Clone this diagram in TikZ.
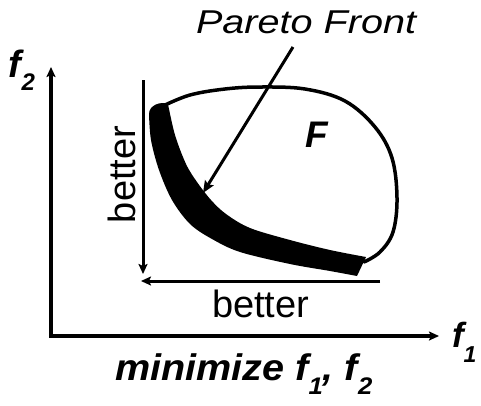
\documentclass[tikz,border=0pt]{standalone}
\usepackage{fontspec}
\setmainfont{Liberation Sans}
\usetikzlibrary{arrows.meta}
\tikzset{
  txt/.style={inner sep=0pt, outer sep=0pt, anchor=base west},
  axisline/.style={line width=3.5pt, line join=miter, {Stealth[length=10pt,width=9pt,inset=2pt]}-{Stealth[length=10pt,width=9pt,inset=2pt]}},
  betterarrow/.style={line width=3pt, -{Stealth[length=10pt,width=9pt,inset=2pt]}},
  pointer/.style={line width=3pt, -{Stealth[length=12pt,width=10pt,inset=2pt]}},
  outline/.style={line width=3.5pt, line cap=round, line join=round}
}
\begin{document}
\begin{tikzpicture}[x=1pt,y=-1pt]
\useasboundingbox (0,0) rectangle (481,405);

% axes
\coordinate (origin) at (51,336);
\coordinate (ytip) at (51,67);
\coordinate (xtip) at (439,336);
\draw[axisline] (ytip) -- (origin) -- (xtip);

% axis labels
\node[txt] (f2lab) at (9,77) {\fontsize{38}{38}\selectfont\bfseries\itshape f\raisebox{-13pt}{\fontsize{24}{24}\selectfont 2}};
\node[txt] (f1lab) at (452,347) {\fontsize{35}{35}\selectfont\bfseries\itshape f\raisebox{-15pt}{\fontsize{23}{23}\selectfont 1}};
\node[txt] (minlab) at (115,380) {\scalebox{1.07}[1]{\fontsize{37}{37}\selectfont\bfseries\itshape minimize f\raisebox{-14pt}{\fontsize{24}{24}\selectfont 1}, f\raisebox{-14pt}{\fontsize{24}{24}\selectfont 2}}};

% feasible region outline
\draw[outline] plot[smooth, tension=0.6] coordinates {(163,106) (190,95) (225,89) (260,87) (305,89) (345,101) (375,127) (392,158) (397,198) (393,232) (380,252) (364,262)};

% Pareto front band
\fill plot[smooth, tension=0.55] coordinates {(149,114) (151,140) (159,170) (172,200) (190,224) (212,239) (240,252) (290,264) (330,271) (357,276)}
  -- plot[smooth, tension=0.55] coordinates {(366,257) (330,250) (290,240) (250,228) (226,214) (211,200) (197,182) (186,164) (175,135) (168,104)}
  .. controls (161,101) and (149,105) .. (149,114) -- cycle;

% region label
\node[txt] (Flab) at (305,147) {\fontsize{37}{37}\selectfont\bfseries\itshape F};

% better arrows
\coordinate (vstart) at (143,80);
\coordinate (vend) at (143,274);
\draw[betterarrow] (vstart) -- (vend);
\coordinate (hstart) at (380,281);
\coordinate (hend) at (141,281);
\draw[betterarrow] (hstart) -- (hend);
\node[txt, rotate=90] (betterv) at (135,223) {\fontsize{38}{38}\selectfont better};
\node[txt] (betterh) at (212,317) {\fontsize{38}{38}\selectfont better};

% Pareto front label and pointer
\node[txt] (pareto) at (196,33) {\scalebox{1.2}[1]{\fontsize{33}{33}\selectfont\itshape Pareto Front}};
\coordinate (pstart) at (293,47);
\coordinate (ptip) at (203,193);
\draw[pointer] (pstart) -- (ptip);
\end{tikzpicture}
\end{document}
